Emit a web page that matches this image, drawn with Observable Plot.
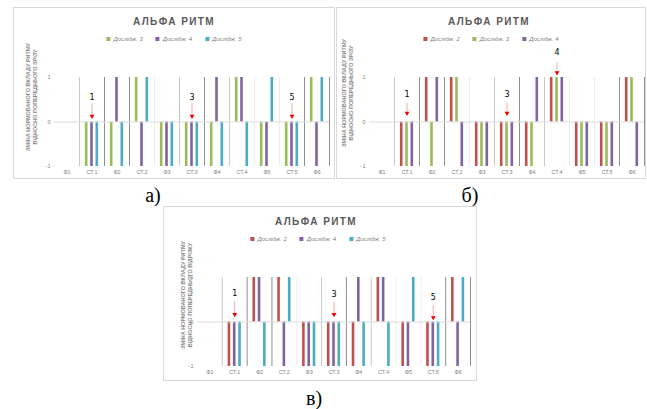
<!DOCTYPE html>
<html><head><meta charset="utf-8">
<script src="https://cdn.jsdelivr.net/npm/d3@7"></script>
<script src="https://cdn.jsdelivr.net/npm/@observablehq/plot@0.6"></script>
<style>
body{margin:0;background:#fff;}
#page{position:relative;width:647px;height:409px;overflow:hidden;background:#fff;font-family:"Liberation Sans",Arial,sans-serif;}
.frame{position:absolute;border:1px solid #d9d9d9;box-sizing:border-box;}
.chart{position:absolute;}
.title{position:absolute;transform:translate(-50%,-50%);font-weight:bold;font-size:10px;letter-spacing:1.4px;color:#595959;white-space:nowrap;}
.legend{position:absolute;transform:translate(-50%,-50%);display:flex;gap:13px;font-size:6px;font-style:italic;color:#7f7f7f;white-space:nowrap;align-items:center;}
.legend .sw{display:inline-block;width:4px;height:4px;margin-right:3px;vertical-align:middle;}
.ylab{position:absolute;transform:translate(-50%,-50%) rotate(-90deg);font-size:5.5px;color:#8a8a8a;text-align:center;line-height:7px;white-space:nowrap;font-weight:bold;}
.tag{position:absolute;transform:translate(-50%,0);font-family:"Liberation Serif","Times New Roman",serif;font-size:20px;line-height:20px;color:#000;}
</style></head>
<body><div id="page"></div>
<script>
// ---- data ----
const categories = ["Ф1","СТ.1","Ф2","СТ.2","Ф3","СТ.3","Ф4","СТ.4","Ф5","СТ.5","Ф6"];
const chartTitle = "АЛЬФА РИТМ";

// panel а)
const seriesA = ["Дослідж. 3","Дослідж. 4","Дослідж. 5"];
const aStudy3 = [0,-1,-1, 1,-1,-1,-1, 1,-1,-1, 1];
const aStudy4 = [0,-1, 1,-1,-1,-1, 1, 1,-1,-1,-1];
const aStudy5 = [0,-1,-1, 1,-1,-1,-1,-1, 1,-1, 1];
const aYLabel = ["ЗМІНА НОРМОВАНОГО ВКЛАДУ РИТМУ","ВІДНОСНО ПОПЕРЕДНЬОГО ЗРІЗУ"];
const aNoteCats = ["СТ.1","СТ.3","СТ.5"];
const aNoteText = ["1","3","5"];
const aNoteTextY = [0.55,0.55,0.55];
const aNoteTailY = [0.42,0.42,0.42];
const aNoteHeadY = [0.13,0.13,0.13];

// panel б)
const seriesB = ["Дослідж. 2","Дослідж. 3","Дослідж. 4"];
const bStudy2 = [0,-1, 1, 1,-1,-1,-1, 1,-1,-1, 1];
const bStudy3 = [0,-1,-1, 1,-1,-1,-1, 1,-1,-1, 1];
const bStudy4 = [0,-1, 1,-1,-1,-1, 1, 1,-1,-1,-1];
const bYLabel = ["ЗМІНА НОРМОВАНОГО ВКЛАДУ РИТМУ","ВІДНОСНО ПОПЕРЕДНЬОГО ЗРІЗУ"];
const bNoteCats = ["СТ.1","СТ.3","СТ.4"];
const bNoteText = ["1","3","4"];
const bNoteTextY = [0.61,0.61,1.57];
const bNoteTailY = [0.43,0.43,1.34];
const bNoteHeadY = [0.2,0.2,1.11];

// panel в)
const seriesC = ["Дослідж. 2","Дослідж. 4","Дослідж. 5"];
const cStudy2 = [0,-1, 1, 1,-1,-1,-1, 1,-1,-1, 1];
const cStudy4 = [0,-1, 1,-1,-1,-1, 1, 1,-1,-1,-1];
const cStudy5 = [0,-1,-1, 1,-1,-1,-1,-1, 1,-1, 1];
const cYLabel = ["ЗМІНА НОРМОВАНОГО ВКЛАДУ РИТМУ","ВІДНОСНО ПОПЕРЕДНЬОГО ВІДРІЗКУ"];
const cNoteCats = ["СТ.1","СТ.3","СТ.5"];
const cNoteText = ["1","3","5"];
const cNoteTextY = [0.64,0.63,0.56];
const cNoteTailY = [0.47,0.46,0.38];
const cNoteHeadY = [0.17,0.17,0.1];

const panelTags = ["а)","б)","в)"];

// ---- styles ----
const palette = {"Дослідж. 2":"#c0504d","Дослідж. 3":"#9bbb59","Дослідж. 4":"#8064a2","Дослідж. 5":"#4bacc6"};
const shades = ["#c9c9c9","#8f8f8f","#8f8f8f","#ececec","#c9c9c9","#8f8f8f","#c9c9c9","#ececec","#ececec","#8f8f8f","#8f8f8f"];

const page = document.getElementById("page");

function el(cls, x, y, html) {
  const d = document.createElement("div");
  d.className = cls;
  d.style.left = x + "px"; d.style.top = y + "px";
  d.innerHTML = html;
  page.appendChild(d);
  return d;
}

function makePanel(p) {
  const n = categories.length;
  const bw = (p.px[1] - p.px[0]) / n;
  const gapU = 5.3 / bw, halfU = 1.3 / bw;
  const bars = [];
  p.series.forEach((name, s) => p.values[s].forEach((v, i) => { if (v !== 0) bars.push({name, s, i, v}); }));
  const notes = p.noteCats.map((c, k) => ({x: categories.indexOf(c) + 0.5, label: p.noteText[k], ty: p.noteTextY[k], tail: p.noteTailY[k], head: p.noteHeadY[k]}));

  const frame = el("frame", p.box.x, p.box.y, "");
  frame.style.width = p.box.w + "px"; frame.style.height = p.box.h + "px";

  const svg = Plot.plot({
    width: p.box.w, height: p.box.h,
    marginLeft: p.px[0] - p.box.x, marginRight: p.box.x + p.box.w - p.px[1],
    marginTop: p.py[0] - p.box.y, marginBottom: p.box.y + p.box.h - p.py[1],
    x: {type: "linear", domain: [0, n], axis: null, label: null},
    y: {domain: [-1, 1], axis: null, label: null},
    color: {type: "identity"},
    style: {background: "transparent", fontFamily: "Liberation Sans, Arial, sans-serif", color: "#7f7f7f", overflow: "visible"},
    marks: [
      Plot.ruleX(d3.range(1, n + 1), {y1: -1, y2: 1, stroke: (d, k) => shades[k], strokeWidth: 1}),
      Plot.rect(bars, {
        x1: r => r.i + 0.5 + (r.s - 1) * gapU - halfU,
        x2: r => r.i + 0.5 + (r.s - 1) * gapU + halfU,
        y1: 0, y2: "v", fill: r => palette[r.name]
      }),
      Plot.ruleY([0], {stroke: "#dcdcdc", strokeWidth: 1}),
      Plot.axisX(d3.range(n).map(i => i + 0.5), {tickSize: 0, tickPadding: 4, label: null, tickFormat: d => categories[Math.floor(d)], fontSize: 5.5, fill: "#7f7f7f"}),
      Plot.axisY([-1, 0, 1], {tickSize: 0, tickPadding: 4, label: null, tickFormat: d => String(d), fontSize: 5.5, fill: "#7f7f7f"}),
      Plot.link(notes, {x1: "x", x2: "x", y1: "tail", y2: "head", stroke: "#f6a8a8", strokeWidth: 1}),
      Plot.dot(notes, {x: "x", y: "head", symbol: "triangle", r: 1.8, fill: "#f20000", stroke: null, rotate: 180}),
      Plot.text(notes, {x: "x", y: "ty", text: "label", fontSize: 8, fill: "black", fontFamily: "DejaVu Sans"})
    ]
  });
  svg.classList.add("chart");
  svg.style.left = p.box.x + "px"; svg.style.top = p.box.y + "px";
  svg.style.position = "absolute";
  page.appendChild(svg);

  el("title", p.titleAt[0], p.titleAt[1], chartTitle);
  el("legend", p.legendAt[0], p.legendAt[1],
    p.series.map(s => `<span><span class="sw" style="background:${palette[s]}"></span>${s}</span>`).join(""));
  el("ylab", p.ylabAt[0], p.ylabAt[1], p.ylab.join("<br>"));
  el("tag", p.tagAt[0], p.tagAt[1], p.tag);
}

makePanel({
  box: {x: 13, y: 7, w: 322, h: 172}, px: [54, 329], py: [77, 166],
  series: seriesA, values: [aStudy3, aStudy4, aStudy5],
  noteCats: aNoteCats, noteText: aNoteText, noteTextY: aNoteTextY, noteTailY: aNoteTailY, noteHeadY: aNoteHeadY,
  titleAt: [174, 21], legendAt: [174, 39], ylabAt: [32, 97], ylab: aYLabel,
  tag: panelTags[0], tagAt: [153, 185]
});
makePanel({
  box: {x: 336, y: 7, w: 310, h: 172}, px: [369, 644], py: [77, 166],
  series: seriesB, values: [bStudy2, bStudy3, bStudy4],
  noteCats: bNoteCats, noteText: bNoteText, noteTextY: bNoteTextY, noteTailY: bNoteTailY, noteHeadY: bNoteHeadY,
  titleAt: [489, 21], legendAt: [491, 39], ylabAt: [348, 93], ylab: bYLabel,
  tag: panelTags[1], tagAt: [470, 185]
});
makePanel({
  box: {x: 163, y: 206, w: 314, h: 175}, px: [197, 470], py: [277, 366],
  series: seriesC, values: [cStudy2, cStudy4, cStudy5],
  noteCats: cNoteCats, noteText: cNoteText, noteTextY: cNoteTextY, noteTailY: cNoteTailY, noteHeadY: cNoteHeadY,
  titleAt: [316, 221], legendAt: [318, 239], ylabAt: [187, 295], ylab: cYLabel,
  tag: panelTags[2], tagAt: [314, 388]
});
</script>
</body></html>
